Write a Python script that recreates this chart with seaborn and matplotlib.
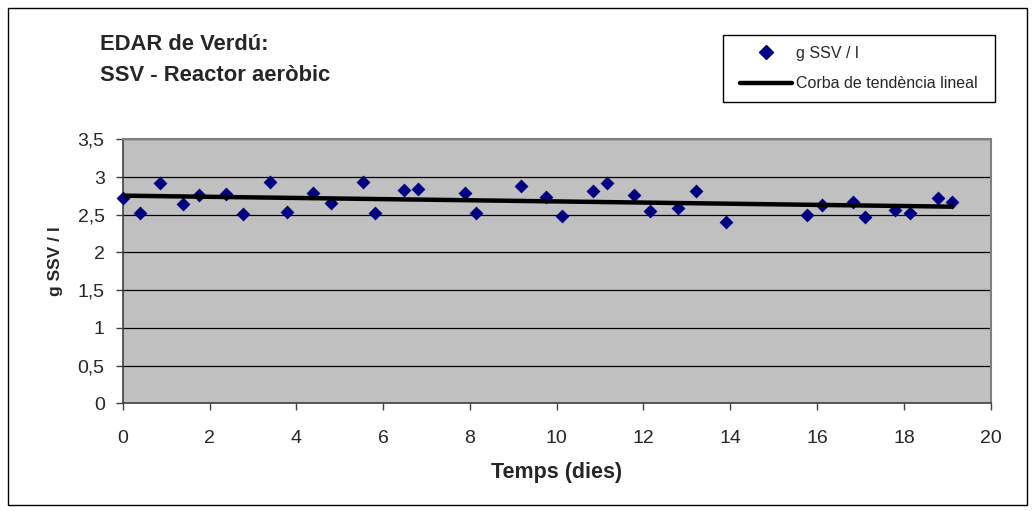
import numpy as np
import pandas as pd
import matplotlib
matplotlib.use("Agg")
import matplotlib.pyplot as plt
import matplotlib.ticker as mticker
from matplotlib.lines import Line2D
from matplotlib.patches import Rectangle
import seaborn as sns

# Data
dies = [0.00, 0.40, 0.87, 1.40, 1.75, 2.38, 2.76, 3.40, 3.78, 4.39,
        4.79, 5.54, 5.82, 6.48, 6.80, 7.89, 8.14, 9.17, 9.75, 10.13,
        10.83, 11.15, 11.78, 12.15, 12.79, 13.20, 13.89, 15.77, 16.12, 16.83,
        17.10, 17.79, 18.13, 18.78, 19.12]
ssv = [2.72, 2.52, 2.92, 2.64, 2.76, 2.78, 2.51, 2.94, 2.54, 2.79,
       2.66, 2.93, 2.53, 2.83, 2.84, 2.79, 2.53, 2.88, 2.73, 2.48,
       2.82, 2.92, 2.76, 2.55, 2.59, 2.81, 2.41, 2.50, 2.63, 2.67,
       2.47, 2.56, 2.53, 2.72, 2.67]

df = pd.DataFrame({"Temps (dies)": dies, "g SSV / l": ssv})

sns.set_style("white")
plt.rcParams['font.family'] = ['Liberation Sans', 'DejaVu Sans']

fig = plt.figure(figsize=(10.34, 5.11), dpi=100)
ax = fig.add_axes([0.1187, 0.2108, 0.8394, 0.5164])

# outer chart border
fig.patches.append(Rectangle((0.008, 0.012), 0.985, 0.973, transform=fig.transFigure,
                             fill=False, edgecolor="black", linewidth=1))

ax.set_facecolor("#C0C0C0")

sns.scatterplot(data=df, x="Temps (dies)", y="g SSV / l", ax=ax, marker="D",
                color="#000080", s=50, edgecolor="#000080", linewidth=0,
                zorder=3, clip_on=False, legend=False)

# linear trend
sns.regplot(data=df, x="Temps (dies)", y="g SSV / l", ax=ax, scatter=False,
            ci=None, color="black", line_kws={"linewidth": 3.2, "zorder": 4})

ax.set_xlim(0, 20)
ax.set_ylim(0, 3.5)
ax.xaxis.set_major_locator(mticker.MultipleLocator(2))
ax.yaxis.set_major_locator(mticker.MultipleLocator(0.5))
ax.yaxis.set_major_formatter(mticker.FuncFormatter(lambda v, p: f"{v:g}".replace(".", ",")))
ax.grid(axis="y", color="black", linewidth=0.9)
ax.set_axisbelow(True)

for side in ["left", "bottom"]:
    ax.spines[side].set_color("#404040")
    ax.spines[side].set_linewidth(1.2)
for side in ["right", "top"]:
    ax.spines[side].set_color("#808080")
    ax.spines[side].set_linewidth(1.5)

ax.tick_params(axis="both", direction="out", length=5, width=1, color="#404040",
               labelsize=14, bottom=True, left=True)
ax.tick_params(axis="x", pad=14)
ax.tick_params(axis="y", pad=8)

ax.set_xlabel("Temps (dies)", fontsize=15.5, fontweight="bold", labelpad=11)
ax.set_ylabel("g SSV / l", fontsize=12.5, fontweight="bold")
ax.yaxis.set_label_coords(-0.069, 0.539)

fig.text(0.097, 0.912, "EDAR de Verdú:", fontsize=15.8, fontweight="bold", va="center")
fig.text(0.097, 0.852, "SSV - Reactor aeròbic", fontsize=15.8, fontweight="bold", va="center")

# legend box drawn separately so its size matches the original
fig.patches.append(Rectangle((0.6992, 0.8004), 0.2631, 0.1311, transform=fig.transFigure,
                             fill=False, edgecolor="black", linewidth=1))
handles = [Line2D([], [], marker="D", color="#000080", linestyle="none", markersize=7),
           Line2D([], [], color="black", linewidth=3.2)]
leg = fig.legend(handles, ["g SSV / l", "Corba de tendència lineal"],
                 loc="upper left", bbox_to_anchor=(0.7157, 0.910), fontsize=11.5,
                 frameon=False, borderpad=0, borderaxespad=0,
                 handlelength=3.25, handletextpad=0.25, labelspacing=0.97)

fig.savefig("out.png", dpi=100)
